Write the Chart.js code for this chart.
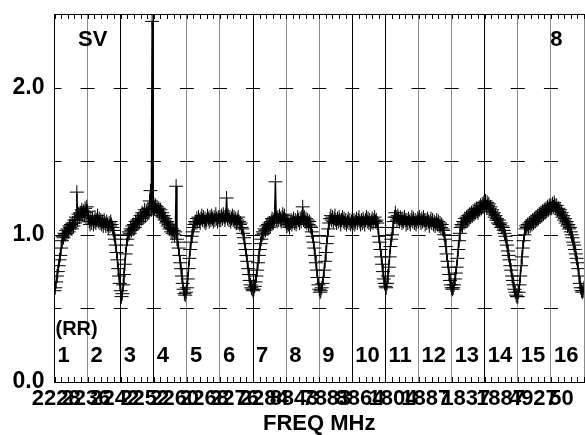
<!DOCTYPE html>
<html>
<head>
<meta charset="utf-8">
<script src="https://cdn.jsdelivr.net/npm/chart.js@4.4.1/dist/chart.umd.min.js"></script>
<style>
  html, body { margin: 0; padding: 0; overflow: hidden; background: #fff; }
  #wrap { width: 592px; height: 435px; }
</style>
</head>
<body>
<div id="wrap"><canvas id="myChart"></canvas></div>
<script>
// RR ratio, 40 samples per channel
const ch1  = [0.62, 0.64, 0.68, 0.72, 0.75, 0.79, 0.83, 0.86, 0.91, 0.96, 0.99, 0.98, 1.01, 1.00, 1.03, 1.01, 1.04, 1.02, 1.06, 1.05,
              1.07, 1.04, 1.08, 1.06, 1.10, 1.08, 1.12, 1.29, 1.10, 1.14, 1.12, 1.15, 1.13, 1.17, 1.14, 1.16, 1.13, 1.18, 1.15, 1.19];
const ch2  = [1.16, 1.12, 1.09, 1.07, 1.10, 1.08, 1.11, 1.07, 1.09, 1.12, 1.08, 1.10, 1.13, 1.09, 1.11, 1.08, 1.10, 1.07, 1.09, 1.06,
              1.10, 1.08, 1.06, 1.09, 1.07, 1.05, 1.08, 1.06, 1.09, 1.07, 1.05, 1.03, 1.00, 0.97, 0.93, 0.88, 0.83, 0.77, 0.72, 0.67];
const ch3  = [0.62, 0.58, 0.60, 0.66, 0.73, 0.80, 0.87, 0.93, 0.97, 1.00, 1.02, 1.01, 1.04, 1.03, 1.06, 1.04, 1.07, 1.05, 1.09, 1.07,
              1.10, 1.08, 1.11, 1.09, 1.13, 1.11, 1.15, 1.12, 1.14, 1.17, 1.13, 1.16, 1.14, 1.18, 1.15, 1.23, 1.30, 1.17, 2.45, 1.19];
const ch4  = [1.21, 1.18, 1.20, 1.17, 1.19, 1.16, 1.18, 1.15, 1.17, 1.13, 1.15, 1.12, 1.13, 1.10, 1.11, 1.08, 1.09, 1.06, 1.07, 1.04,
              1.05, 1.02, 1.04, 1.01, 1.03, 1.00, 1.02, 1.33, 0.97, 0.95, 0.91, 0.86, 0.81, 0.77, 0.72, 0.67, 0.63, 0.60, 0.59, 0.61];
const ch5  = [0.64, 0.70, 0.77, 0.84, 0.90, 0.95, 0.99, 1.02, 1.05, 1.07, 1.09, 1.08, 1.11, 1.09, 1.12, 1.10, 1.08, 1.11, 1.13, 1.10,
              1.12, 1.09, 1.11, 1.08, 1.10, 1.13, 1.11, 1.09, 1.12, 1.10, 1.13, 1.11, 1.09, 1.12, 1.10, 1.14, 1.11, 1.09, 1.12, 1.10];
const ch6  = [1.12, 1.10, 1.13, 1.11, 1.14, 1.12, 1.10, 1.13, 1.25, 1.11, 1.13, 1.10, 1.12, 1.09, 1.11, 1.13, 1.10, 1.12, 1.09, 1.11,
              1.08, 1.10, 1.12, 1.09, 1.07, 1.08, 1.05, 1.04, 1.01, 0.98, 0.94, 0.90, 0.86, 0.82, 0.77, 0.73, 0.69, 0.66, 0.64, 0.63];
const ch7  = [0.62, 0.63, 0.65, 0.68, 0.72, 0.76, 0.81, 0.86, 0.90, 0.94, 0.97, 1.00, 1.02, 1.01, 1.04, 1.03, 1.06, 1.04, 1.07, 1.05,
              1.08, 1.06, 1.09, 1.11, 1.08, 1.10, 1.12, 1.36, 1.11, 1.09, 1.12, 1.10, 1.13, 1.11, 1.09, 1.12, 1.14, 1.11, 1.13, 1.10];
const ch8  = [1.08, 1.06, 1.09, 1.07, 1.05, 1.08, 1.10, 1.07, 1.09, 1.11, 1.08, 1.10, 1.07, 1.09, 1.12, 1.10, 1.08, 1.11, 1.09, 1.12,
              1.19, 1.10, 1.12, 1.09, 1.11, 1.08, 1.10, 1.07, 1.09, 1.06, 1.05, 1.02, 0.99, 0.95, 0.91, 0.86, 0.81, 0.76, 0.71, 0.66];
const ch9  = [0.63, 0.61, 0.62, 0.64, 0.67, 0.71, 0.76, 0.82, 0.88, 0.94, 0.99, 1.04, 1.08, 1.11, 1.13, 1.10, 1.12, 1.09, 1.11, 1.13,
              1.10, 1.08, 1.11, 1.09, 1.12, 1.10, 1.07, 1.10, 1.12, 1.09, 1.11, 1.08, 1.10, 1.07, 1.09, 1.11, 1.08, 1.10, 1.07, 1.09];
const ch10 = [1.11, 1.08, 1.10, 1.07, 1.09, 1.11, 1.08, 1.10, 1.12, 1.09, 1.07, 1.10, 1.08, 1.11, 1.09, 1.07, 1.10, 1.12, 1.09, 1.11,
              1.08, 1.10, 1.07, 1.09, 1.11, 1.08, 1.10, 1.12, 1.09, 1.10, 1.08, 1.05, 0.99, 0.95, 0.90, 0.85, 0.80, 0.75, 0.70, 0.67];
const ch11 = [0.65, 0.64, 0.67, 0.72, 0.78, 0.85, 0.92, 0.97, 1.00, 1.05, 1.09, 1.12, 1.15, 1.12, 1.10, 1.13, 1.11, 1.09, 1.12, 1.10,
              1.08, 1.11, 1.09, 1.12, 1.10, 1.07, 1.10, 1.08, 1.11, 1.09, 1.07, 1.10, 1.12, 1.09, 1.11, 1.08, 1.10, 1.07, 1.09, 1.11];
const ch12 = [1.09, 1.12, 1.10, 1.08, 1.11, 1.09, 1.12, 1.10, 1.07, 1.10, 1.08, 1.11, 1.09, 1.06, 1.09, 1.11, 1.08, 1.10, 1.07, 1.09,
              1.06, 1.08, 1.10, 1.07, 1.09, 1.06, 1.08, 1.05, 1.07, 1.04, 1.03, 1.00, 0.97, 0.92, 0.87, 0.82, 0.78, 0.73, 0.69, 0.66];
const ch13 = [0.64, 0.63, 0.64, 0.66, 0.70, 0.74, 0.78, 0.84, 0.90, 0.96, 1.01, 1.05, 1.07, 1.06, 1.09, 1.08, 1.11, 1.09, 1.12, 1.10,
              1.13, 1.11, 1.14, 1.12, 1.15, 1.13, 1.16, 1.14, 1.17, 1.15, 1.18, 1.16, 1.15, 1.18, 1.17, 1.20, 1.18, 1.21, 1.19, 1.22];
const ch14 = [1.20, 1.23, 1.19, 1.22, 1.20, 1.21, 1.18, 1.19, 1.16, 1.17, 1.14, 1.15, 1.12, 1.13, 1.10, 1.11, 1.08, 1.10, 1.07, 1.08,
              1.05, 1.06, 1.05, 1.03, 1.01, 0.99, 0.96, 0.93, 0.89, 0.86, 0.83, 0.79, 0.76, 0.72, 0.69, 0.66, 0.63, 0.61, 0.59, 0.58];
const ch15 = [0.58, 0.61, 0.66, 0.72, 0.79, 0.85, 0.91, 0.96, 1.00, 1.04, 1.06, 1.05, 1.07, 1.05, 1.08, 1.06, 1.09, 1.07, 1.10, 1.08,
              1.11, 1.09, 1.12, 1.10, 1.13, 1.11, 1.14, 1.12, 1.15, 1.13, 1.16, 1.14, 1.17, 1.15, 1.18, 1.16, 1.19, 1.17, 1.20, 1.18];
const ch16 = [1.20, 1.18, 1.21, 1.19, 1.22, 1.20, 1.18, 1.20, 1.17, 1.18, 1.16, 1.17, 1.14, 1.15, 1.12, 1.13, 1.10, 1.11, 1.08, 1.09,
              1.06, 1.07, 1.04, 1.05, 1.02, 1.00, 0.98, 0.95, 0.93, 0.90, 0.87, 0.84, 0.81, 0.77, 0.72, 0.67, 0.64, 0.62, 0.61, 0.62];
const chEnd = 0.64;

const channelNames = ['1', '2', '3', '4', '5', '6', '7', '8', '9', '10', '11', '12', '13', '14', '15', '16'];
const freqTickPos  = [0.05, 0.95, 1.82, 2.73, 3.63, 4.53, 5.44, 6.34, 7.24, 8.23, 9.23, 10.23, 11.22, 12.43, 13.48, 14.47, 15.32];
const freqTickText = ['2228', '2236', '2242', '2252', '2260', '2268', '2276', '2284', '8843', '7883', '8864', '1804', '1887', '1837', '1887', '4927', '50'];
const yTicks = [0, 1, 2];
const darkLines = [0, 2, 3, 6, 9, 10, 13];

const channels = [ch1, ch2, ch3, ch4, ch5, ch6, ch7, ch8, ch9, ch10, ch11, ch12, ch13, ch14, ch15, ch16];
const perChannel = 40;
const points = [];
channels.forEach((vals, c) => {
  vals.forEach((v, i) => points.push({ x: c + i / perChannel, y: v }));
});
points.push({ x: channels.length, y: chEnd });

Chart.defaults.font.family = "'Liberation Sans', Arial, sans-serif";
Chart.defaults.font.size = 22;
Chart.defaults.font.weight = 'bold';
Chart.defaults.color = '#000';

// frame ticks, panel crosses and the labels inside the plot
const panelMarks = {
  id: 'panelMarks',
  beforeDatasetsDraw(chart) {
    const { ctx, chartArea: a, scales: { x, y } } = chart;
    ctx.save();
    ctx.strokeStyle = '#000';
    ctx.lineWidth = 1;
    ctx.beginPath();
    ctx.moveTo(a.left, Math.round(a.top) + 0.5);
    ctx.lineTo(a.right, Math.round(a.top) + 0.5);
    for (let i = 0; i <= 80; i++) {
      const px = Math.round(x.getPixelForValue(i / 5)) + 0.5;
      ctx.moveTo(px, a.top); ctx.lineTo(px, a.top + 5);
      ctx.moveTo(px, a.bottom); ctx.lineTo(px, a.bottom - 5);
    }
    for (let k = 1; k <= 4; k++) {
      const py = Math.round(y.getPixelForValue(k / 2)) + 0.5;
      ctx.moveTo(a.left, py); ctx.lineTo(a.left + 7, py);
      for (let c = 1; c < 16; c++) {
        const px = x.getPixelForValue(c);
        ctx.moveTo(px - 7, py); ctx.lineTo(px + 7, py);
      }
    }
    ctx.stroke();
    ctx.restore();
  },
  afterDatasetsDraw(chart) {
    const { ctx, scales: { x, y } } = chart;
    ctx.save();
    ctx.fillStyle = '#000';
    ctx.textBaseline = 'alphabetic';
    ctx.font = "bold 22px 'Liberation Sans', Arial, sans-serif";
    channelNames.forEach((t, c) => {
      ctx.fillText(t, x.getPixelForValue(c) + 3, y.getPixelForValue(0.136));
    });
    ctx.fillText('SV', x.getPixelForValue(0.71), y.getPixelForValue(2.28));
    ctx.fillText('8', x.getPixelForValue(14.98), y.getPixelForValue(2.28));
    ctx.font = "bold 20px 'Liberation Sans', Arial, sans-serif";
    ctx.fillText('(RR)', x.getPixelForValue(0.03), y.getPixelForValue(0.32));
    ctx.restore();
  }
};

const config = {
  type: 'line',
  data: {
    datasets: [{
      data: points,
      borderColor: '#000',
      borderWidth: 1.5,
      pointStyle: 'cross',
      pointRadius: 7,
      pointHoverRadius: 0,
      pointBorderColor: '#000',
      pointBorderWidth: 1,
      tension: 0
    }]
  },
  options: {
    responsive: true,
    maintainAspectRatio: false,
    animation: false,
    events: [],
    layout: { padding: { top: 14, right: 6, left: 0, bottom: 0 } },
    plugins: { legend: { display: false }, tooltip: { enabled: false } },
    scales: {
      x: {
        type: 'linear', min: 0, max: 16,
        ticks: { stepSize: 1, display: false },
        grid: {
          color: ctx => darkLines.includes(ctx.tick.value) ? '#000' : '#8a8a8a',
          drawTicks: false
        },
        border: { display: true, color: '#000' },
        afterFit: s => { s.height = 0; s.paddingLeft = 0; s.paddingRight = 0; }
      },
      xf: {
        type: 'linear', position: 'bottom', min: 0, max: 16,
        afterBuildTicks: s => { s.ticks = freqTickPos.map(v => ({ value: v })); },
        ticks: {
          autoSkip: false, maxRotation: 0, padding: 4,
          font: { size: 22, weight: 'bold' },
          callback: (v, i) => freqTickText[i]
        },
        grid: { display: false, drawTicks: false },
        border: { display: false },
        title: { display: true, text: 'FREQ MHz', padding: 0, font: { size: 22, weight: 'bold', lineHeight: 1 } },
        afterFit: s => { s.height = 53; s.paddingLeft = 0; s.paddingRight = 0; }
      },
      y: {
        min: 0, max: 2.5,
        afterBuildTicks: s => { s.ticks = yTicks.map(v => ({ value: v })); },
        ticks: { padding: 10, font: { size: 23, weight: 'bold' }, callback: v => v.toFixed(1) },
        grid: { display: false, drawTicks: false },
        border: { color: '#000' },
        afterFit: s => { s.width = 54.5; s.paddingTop = 0; s.paddingBottom = 0; }
      }
    }
  },
  plugins: [panelMarks]
};

const myChart = new Chart(document.getElementById('myChart'), config);
</script>
</body>
</html>
